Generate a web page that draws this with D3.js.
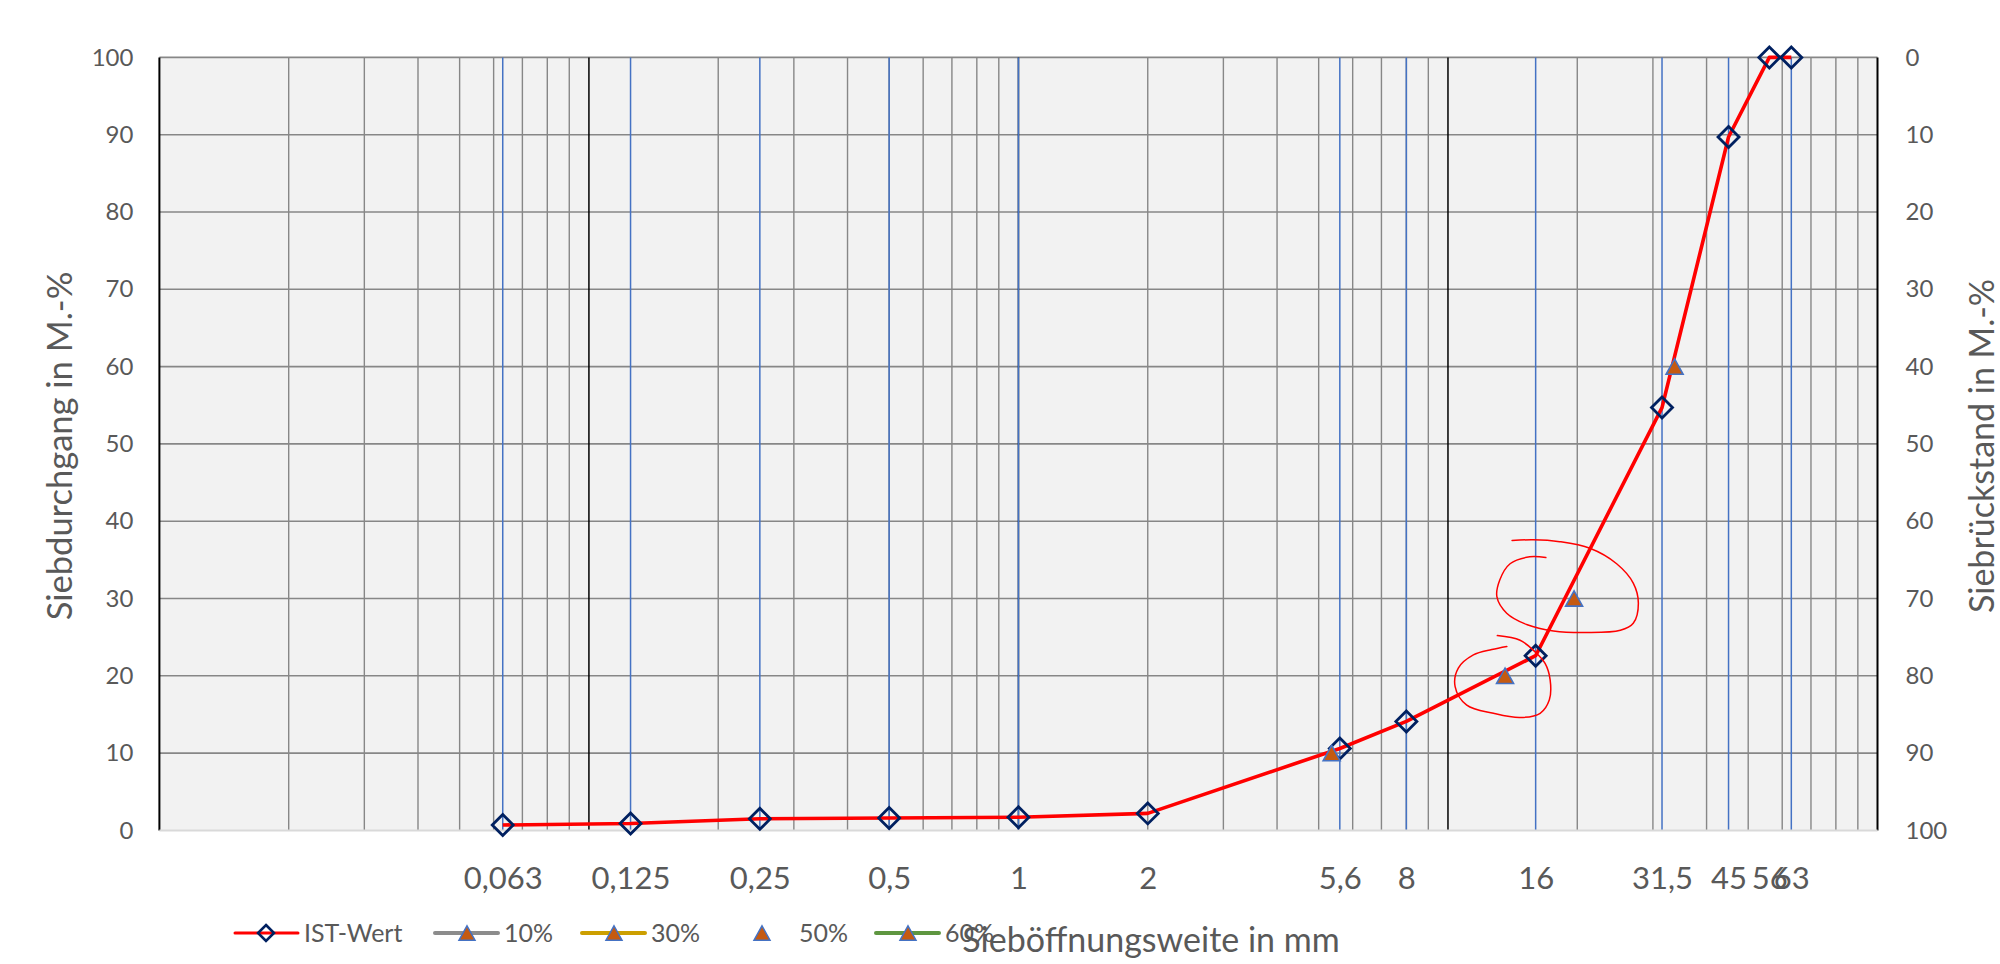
<!DOCTYPE html>
<html>
<head>
<meta charset="utf-8">
<script src="https://cdn.jsdelivr.net/npm/d3@7"></script>
<style>
  html, body { margin: 0; padding: 0; background: #ffffff; }
  svg { display: block; }
  text { font-family: Lato, "Open Sans", sans-serif; fill: #595959; }
</style>
</head>
<body>
<svg id="chart" width="2000" height="964"></svg>
<script>
// ---------- data ----------
const sieveSizes  = [0.063, 0.125, 0.25, 0.5, 1, 2, 5.6, 8, 16, 31.5, 45, 56, 63];
const sieveLabels = ["0,063", "0,125", "0,25", "0,5", "1", "2", "5,6", "8", "16", "31,5", "45", "56", "63"];
const istValues   = [0.7, 0.9, 1.5, 1.6, 1.7, 2.2, 10.6, 14.1, 22.6, 54.7, 89.7, 100, 100];

const blueLineSizes = [0.063, 0.125, 0.25, 0.5, 1, 5.6, 8, 16, 31.5, 45, 63];
const decadeSizes   = [0.01, 0.1, 1, 10, 100];

const yTicksLeft  = [0, 10, 20, 30, 40, 50, 60, 70, 80, 90, 100];
const yTicksRight = [0, 10, 20, 30, 40, 50, 60, 70, 80, 90, 100];

const markSeries = ["10%", "30%", "50%", "60%"];
const markX      = [5.36, 13.58, 19.66, 33.7];
const markY      = [10, 20, 30, 60];

const legendNames  = ["IST-Wert", "10%", "30%", "50%", "60%"];
const legendLines  = ["#FF0000", "#8C8C8C", "#CC9F00", null, "#5E9640"];
const legendSymbol = ["diamond", "triangle", "triangle", "triangle", "triangle"];

// hand-drawn red annotation loops (in data units)
const loopUpper = [[16.9,35.3],[15.5,35.4],[13.95,34.5],[13.2,32.4],[13.0,30.2],[13.7,28.1],[15.3,26.6],[17.6,25.8],[21.05,25.6],[25.2,25.9],[27.0,26.8],[27.75,29.4],[27.0,32.0],[24.7,34.5],[21.4,36.5],[18.2,37.35],[15.8,37.6],[14.1,37.5]];
const loopLower = [[13.03,25.2],[14.72,24.6],[15.95,23.1],[16.83,21.6],[17.29,19.5],[17.22,16.9],[16.39,15.15],[14.72,14.6],[12.76,15.15],[11.06,16.2],[10.39,18.6],[10.57,21.0],[11.46,22.7],[12.65,23.4],[13.71,23.8]];

// ---------- layout ----------
const W = 2000, H = 964;
const L = 159.4, R = 1877.5, T = 57.4, B = 830.4;

const svg = d3.select("#chart");
svg.append("rect").attr("width", W).attr("height", H).attr("fill", "#ffffff");

const x  = d3.scaleLog().domain([0.01, 100]).range([L, R]);
const y  = d3.scaleLinear().domain([0, 100]).range([B, T]);
const yR = d3.scaleLinear().domain([100, 0]).range([B, T]);

// plot background
svg.append("rect").attr("x", L).attr("y", T).attr("width", R - L).attr("height", B - T).attr("fill", "#F2F2F2");

const grid = svg.append("g");
// horizontal gridlines
grid.selectAll("line.h").data(yTicksLeft.filter(d => d > 0)).join("line")
  .attr("x1", L).attr("x2", R).attr("y1", d => y(d)).attr("y2", d => y(d))
  .attr("stroke", "#878787").attr("stroke-width", 1.6);
// minor vertical gridlines (log ticks)
const minor = x.ticks().filter(d => decadeSizes.every(e => Math.abs(Math.log10(d) - Math.log10(e)) > 1e-6));
grid.selectAll("line.v").data(minor).join("line")
  .attr("x1", d => x(d)).attr("x2", d => x(d)).attr("y1", T).attr("y2", B)
  .attr("stroke", "#878787").attr("stroke-width", 1.4);
// decade lines
grid.selectAll("line.d").data(decadeSizes).join("line")
  .attr("x1", d => x(d)).attr("x2", d => x(d)).attr("y1", T).attr("y2", B)
  .attr("stroke", "#000000").attr("stroke-width", (d, i) => (i === 0 || i === decadeSizes.length - 1) ? 2 : 1.5);
// blue sieve lines
grid.selectAll("line.b").data(blueLineSizes).join("line")
  .attr("x1", d => x(d)).attr("x2", d => x(d)).attr("y1", T).attr("y2", B)
  .attr("stroke", "#4472C4").attr("stroke-width", 1.5);
// bottom axis line
svg.append("line").attr("x1", L).attr("x2", R).attr("y1", B).attr("y2", B)
  .attr("stroke", "#D9D9D9").attr("stroke-width", 2);

// ---------- axes ----------
const axL = svg.append("g").attr("transform", `translate(${L},0)`)
  .call(d3.axisLeft(y).tickValues(yTicksLeft).tickSize(0).tickPadding(26).tickFormat(d3.format("d")));
const axR = svg.append("g").attr("transform", `translate(${R},0)`)
  .call(d3.axisRight(yR).tickValues(yTicksRight).tickSize(0).tickPadding(28).tickFormat(d3.format("d")));
const axB = svg.append("g").attr("transform", `translate(0,${B})`)
  .call(d3.axisBottom(x).tickValues(sieveSizes).tickSize(0).tickPadding(37)
        .tickFormat((d, i) => sieveLabels[i]));
[axL, axR, axB].forEach(a => {
  a.select(".domain").remove();
  a.selectAll("text").attr("fill", "#595959").style("font-family", "Lato, sans-serif");
});
axL.selectAll("text").style("font-size", "24px");
axR.selectAll("text").style("font-size", "24px");
axB.selectAll("text").style("font-size", "31px");

// axis titles
svg.append("text").attr("transform", `translate(72,446) rotate(-90)`)
  .attr("text-anchor", "middle").style("font-size", "34.5px").text("Siebdurchgang in M.-%");
svg.append("text").attr("transform", `translate(1994,446) rotate(-90)`)
  .attr("text-anchor", "middle").style("font-size", "34px").text("Siebrückstand in M.-%");

// ---------- series ----------
const istData = sieveSizes.map((s, i) => ({ x: s, y: istValues[i] }));
const line = d3.line().x(d => x(d.x)).y(d => y(d.y));
svg.append("path").datum(istData).attr("d", line)
  .attr("fill", "none").attr("stroke", "#FF0000").attr("stroke-width", 3.6)
  .attr("stroke-linejoin", "round");

const diamondType = { draw(ctx, size) { const r = Math.sqrt(size) / 2; ctx.moveTo(0, -r); ctx.lineTo(r, 0); ctx.lineTo(0, r); ctx.lineTo(-r, 0); ctx.closePath(); } };
const triangleType = { draw(ctx, size) { const w = Math.sqrt(size); const h = w * 0.9; ctx.moveTo(0, -h / 2); ctx.lineTo(w / 2, h / 2); ctx.lineTo(-w / 2, h / 2); ctx.closePath(); } };

svg.selectAll("path.dia").data(istData).join("path")
  .attr("transform", d => `translate(${x(d.x)},${y(d.y)})`)
  .attr("d", d3.symbol().type(diamondType).size(21 * 21))
  .attr("fill", "none").attr("stroke", "#002060").attr("stroke-width", 2.8);

const markData = markSeries.map((s, i) => ({ name: s, x: markX[i], y: markY[i] }));
svg.selectAll("path.tri").data(markData).join("path")
  .attr("transform", d => `translate(${x(d.x)},${y(d.y)})`)
  .attr("d", d3.symbol().type(triangleType).size(17 * 17))
  .attr("fill", "#C55A11").attr("stroke", "#4472C4").attr("stroke-width", 1.6);

// annotations
const loopLine = d3.line().x(d => x(d[0])).y(d => y(d[1])).curve(d3.curveCatmullRom.alpha(0.5));
[loopUpper, loopLower].forEach(pts => {
  svg.append("path").datum(pts).attr("d", loopLine)
    .attr("fill", "none").attr("stroke", "#FF0000").attr("stroke-width", 1.5)
    .attr("stroke-linecap", "round");
});

// ---------- legend ----------
const legendX = [235, 435, 582, 730, 876];
const legY = 933;
const leg = svg.append("g");
legendNames.forEach((name, i) => {
  const g = leg.append("g").attr("transform", `translate(${legendX[i]},${legY})`);
  if (legendLines[i]) {
    g.append("line").attr("x1", 0).attr("x2", 63).attr("y1", 0).attr("y2", 0)
      .attr("stroke", legendLines[i]).attr("stroke-width", i === 0 ? 3 : 4).attr("stroke-linecap", "round");
  }
  if (legendSymbol[i] === "diamond") {
    g.append("path").attr("transform", "translate(31,0)")
      .attr("d", d3.symbol().type(diamondType).size(16 * 16))
      .attr("fill", "none").attr("stroke", "#002060").attr("stroke-width", 2.6);
  } else {
    g.append("path").attr("transform", "translate(32,0)")
      .attr("d", d3.symbol().type(triangleType).size(16 * 16))
      .attr("fill", "#C55A11").attr("stroke", "#4472C4").attr("stroke-width", 1.5);
  }
  g.append("text").attr("x", 69).attr("y", 0).attr("dy", "0.35em")
    .style("font-size", "25px").text(name);
});

// x-axis title
svg.append("text").attr("x", 1151).attr("y", 952).attr("text-anchor", "middle")
  .style("font-size", "34px").text("Sieböffnungsweite in mm");
</script>
</body>
</html>
